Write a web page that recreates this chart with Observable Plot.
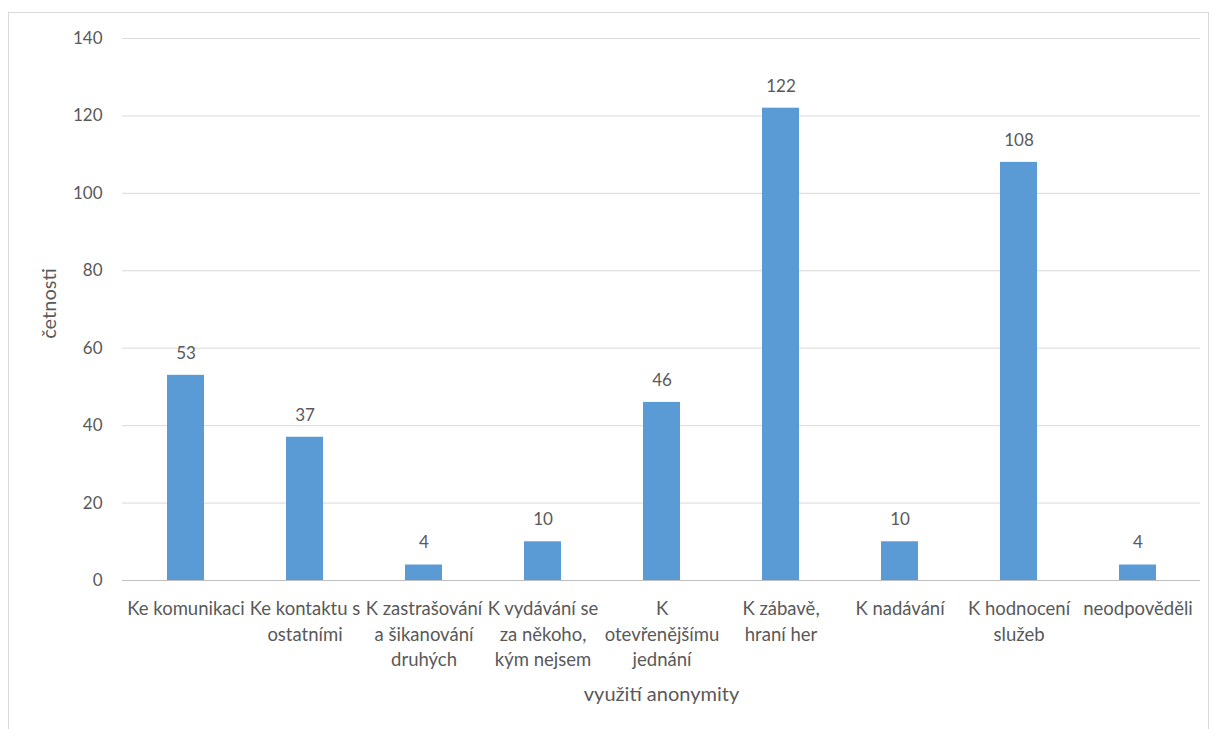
<!DOCTYPE html>
<html>
<head>
<meta charset="utf-8">
<script src="https://cdn.jsdelivr.net/npm/d3@7"></script>
<script src="https://cdn.jsdelivr.net/npm/@observablehq/plot@0.6"></script>
<style>
  html, body { margin: 0; padding: 0; background: #fff; }
  #wrap { position: relative; width: 1213px; height: 729px; overflow: hidden; }
  #border { position: absolute; left: 8px; top: 12px; width: 1201px; height: 730px; border: 1px solid #d9d9d9; box-sizing: border-box; pointer-events: none; }
</style>
</head>
<body>
<div id="wrap"><div id="border"></div></div>
<script>
const categories = [
  "Ke komunikaci",
  "Ke kontaktu s ostatními",
  "K zastrašování a šikanování druhých",
  "K vydávání se za někoho, kým nejsem",
  "K otevřenějšímu jednání",
  "K zábavě, hraní her",
  "K nadávání",
  "K hodnocení služeb",
  "neodpověděli"
];
const tickLabels = [
  "Ke komunikaci",
  "Ke kontaktu s\nostatními",
  "K zastrašování\na šikanování\ndruhých",
  "K vydávání se\nza někoho,\nkým nejsem",
  "K\notevřenějšímu\njednání",
  "K zábavě,\nhraní her",
  "K nadávání",
  "K hodnocení\nslužeb",
  "neodpověděli"
];
const values = [53, 37, 4, 10, 46, 122, 10, 108, 4];
const yTicks = [0, 20, 40, 60, 80, 100, 120, 140];

const data = categories.map((c, i) => ({category: c, value: values[i]}));
const labelOf = new Map(categories.map((c, i) => [c, tickLabels[i]]));

const font = "Lato, 'Open Sans', sans-serif";
const gray = "#595959";

const chart = Plot.plot({
  width: 1213,
  height: 729,
  marginLeft: 122,
  marginRight: 13,
  marginTop: 38,
  marginBottom: 149,
  style: {fontFamily: font, fontSize: "17px", color: gray, background: "transparent"},
  x: {domain: categories, paddingInner: 0.69, paddingOuter: 0.345, label: null},
  y: {domain: [0, 140], label: null},
  marks: [
    Plot.gridY(yTicks.filter(d => d !== 0), {stroke: "#d9d9d9", strokeOpacity: 1, strokeWidth: 1}),
    Plot.axisY(yTicks, {tickSize: 0, tickPadding: 20, fill: gray, fontSize: 17, label: null}),
    Plot.axisX({tickSize: 0, tickPadding: 17, fill: gray, fontSize: 18.5, lineHeight: 1.36, tickFormat: d => labelOf.get(d), label: null}),
    Plot.barY(data, {x: "category", y: "value", fill: "#5b9bd5"}),
    Plot.ruleY([0], {stroke: "#bfbfbf", strokeWidth: 1}),
    Plot.text(data, {x: "category", y: "value", text: d => String(d.value), lineAnchor: "middle", dy: -22, fill: gray, fontSize: 17}),
    Plot.text(["četnosti"], {frameAnchor: "left", dx: -73, dy: -6, rotate: -90, textAnchor: "middle", lineAnchor: "middle", fill: gray, fontSize: 20}),
    Plot.text(["využití anonymity"], {frameAnchor: "bottom", dy: 114, lineAnchor: "middle", textAnchor: "middle", fill: gray, fontSize: 20})
  ]
});
document.getElementById("wrap").prepend(chart);
</script>
</body>
</html>
